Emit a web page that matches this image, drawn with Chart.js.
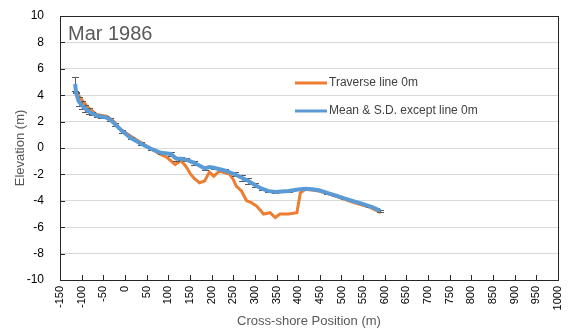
<!DOCTYPE html>
<html>
<head>
<meta charset="utf-8">
<script src="https://cdn.jsdelivr.net/npm/chart.js@4"></script>
<style>
  html, body { margin: 0; padding: 0; background: #fff; }
  #wrap { width: 569px; height: 329px; }
</style>
</head>
<body>
<div id="wrap"><canvas id="c" width="569" height="329"></canvas></div>
<script>
// Cross-shore profile, March 1986
const chartTitle = 'Mar 1986';
const xTitle = 'Cross-shore Position (m)';
const yTitle = 'Elevation (m)';
const seriesNames = ['Traverse line 0m', 'Mean & S.D. except line 0m'];

// Traverse line 0m (position m, elevation m)
const travX = [-112, -103, -88, -65, -41, -26, -10, 13, 44, 75, 98, 116, 129, 141, 152, 160, 172, 184, 195, 205, 218, 242, 250, 257, 269, 281, 292, 304, 312, 320, 335, 347, 358, 378, 397, 405, 417, 448, 486, 525, 564, 591];
const travY = [4.3, 3.79, 3.16, 2.53, 2.4, 2.02, 1.4, 0.9, 0.26, -0.36, -0.74, -1.25, -0.95, -1.4, -2.0, -2.3, -2.63, -2.5, -1.83, -2.13, -1.75, -2.0, -2.38, -2.88, -3.26, -4.0, -4.14, -4.4, -4.7, -5.0, -4.9, -5.27, -5.0, -5.0, -4.9, -3.4, -3.13, -3.26, -3.64, -4.09, -4.47, -4.9];

// Mean of the other lines, with standard deviation
const meanX = [-115, -113, -107, -100, -92, -84, -75, -65, -55, -45, -34, -22, -6, 13, 36, 60, 83, 106, 118, 130, 141, 160, 184, 195, 205, 230, 254, 270, 285, 300, 316, 330, 347, 362, 378, 400, 417, 432, 448, 467, 486, 505, 525, 545, 564, 580, 590];
const meanY = [4.85, 4.2, 3.55, 3.25, 3.0, 2.78, 2.6, 2.45, 2.38, 2.33, 2.15, 1.77, 1.27, 0.77, 0.34, -0.06, -0.36, -0.45, -0.8, -0.82, -0.88, -1.12, -1.55, -1.45, -1.5, -1.7, -2.0, -2.25, -2.5, -2.8, -3.08, -3.25, -3.34, -3.3, -3.26, -3.15, -3.08, -3.12, -3.2, -3.4, -3.59, -3.8, -4.0, -4.2, -4.4, -4.6, -4.77];
const meanSD = [0.5, 0.05, 0.35, 0.3, 0.28, 0.22, 0.1, 0.08, 0.08, 0.08, 0.1, 0.12, 0.12, 0.08, 0.08, 0.08, 0.08, 0.12, 0.15, 0.12, 0.12, 0.15, 0.08, 0.08, 0.08, 0.08, 0.15, 0.22, 0.2, 0.15, 0.08, 0.08, 0.05, 0.05, 0.05, 0.05, 0.05, 0.05, 0.05, 0.05, 0.05, 0.05, 0.05, 0.05, 0.05, 0.05, 0.08];

// Axis ranges and tick steps
const xMin = -150, xMax = 1000, xStep = 50;
const yMin = -10, yMax = 10, yStep = 2;

const FONT = '"Liberation Sans", Arial, sans-serif';
const ORANGE = '#ED7D31';
const BLUE = '#5B9BD5';

const pts = (xs, ys) => xs.map((x, i) => ({ x: x, y: ys[i] }));

// Standard deviation bars, drawn after the traverse line and under the mean line
const errorBars = {
  id: 'errorBars',
  afterDatasetDraw(chart, args) {
    if (args.index !== 0) return;
    const { ctx, scales: { x, y } } = chart;
    ctx.save();
    ctx.strokeStyle = '#595959';
    ctx.lineWidth = 1;
    meanX.forEach((mx, i) => {
      const px = Math.round(x.getPixelForValue(mx)) + 0.5;
      const top = y.getPixelForValue(meanY[i] + meanSD[i]);
      const bot = y.getPixelForValue(meanY[i] - meanSD[i]);
      ctx.beginPath();
      ctx.moveTo(px, top); ctx.lineTo(px, bot);
      ctx.moveTo(px - 3.5, Math.round(top) + 0.5); ctx.lineTo(px + 3.5, Math.round(top) + 0.5);
      ctx.moveTo(px - 3.5, Math.round(bot) + 0.5); ctx.lineTo(px + 3.5, Math.round(bot) + 0.5);
      ctx.stroke();
    });
    ctx.restore();
  }
};

// Frame, inner tick marks, in-plot title, legend and axis titles
const decorations = {
  id: 'decorations',
  afterDraw(chart) {
    const { ctx, chartArea: a, scales: { x, y } } = chart;
    ctx.save();
    ctx.strokeStyle = '#262626';
    ctx.lineWidth = 1;
    ctx.strokeRect(Math.round(a.left) + 0.5, Math.round(a.top) + 0.5, Math.round(a.right - a.left), Math.round(a.bottom - a.top));
    ctx.beginPath();
    for (let v = xMin; v <= xMax; v += xStep) {
      const px = Math.round(x.getPixelForValue(v)) + 0.5;
      ctx.moveTo(px, a.bottom); ctx.lineTo(px, a.bottom - 5);
    }
    for (let v = yMin; v <= yMax; v += yStep) {
      const py = Math.round(y.getPixelForValue(v)) + 0.5;
      ctx.moveTo(a.left, py); ctx.lineTo(a.left + 5, py);
    }
    ctx.stroke();

    ctx.fillStyle = '#595959';
    ctx.font = '20px ' + FONT;
    ctx.textBaseline = 'alphabetic';
    ctx.textAlign = 'left';
    ctx.fillText(chartTitle, a.left + 8, a.top + 24);

    const legend = [[seriesNames[0], ORANGE, 83], [seriesNames[1], BLUE, 111]];
    ctx.font = '12px ' + FONT;
    ctx.textBaseline = 'middle';
    legend.forEach(([label, color, ly]) => {
      ctx.strokeStyle = color;
      ctx.lineWidth = 3;
      ctx.beginPath();
      ctx.moveTo(295, ly); ctx.lineTo(327, ly);
      ctx.stroke();
      ctx.fillStyle = '#404040';
      ctx.fillText(label, 329, ly);
    });

    ctx.fillStyle = '#595959';
    ctx.font = '13px ' + FONT;
    ctx.textAlign = 'center';
    ctx.fillText(xTitle, (a.left + a.right) / 2, 321);
    ctx.translate(20, (a.top + a.bottom) / 2);
    ctx.rotate(-Math.PI / 2);
    ctx.fillText(yTitle, 0, 0);
    ctx.restore();
  }
};

new Chart(document.getElementById('c'), {
  type: 'scatter',
  data: {
    datasets: [
      {
        label: seriesNames[0],
        data: pts(travX, travY),
        showLine: true,
        borderColor: ORANGE,
        borderWidth: 3,
        pointRadius: 0,
        tension: 0,
        order: 2
      },
      {
        label: seriesNames[1],
        data: pts(meanX, meanY),
        showLine: true,
        borderColor: BLUE,
        borderWidth: 4,
        pointRadius: 0,
        tension: 0,
        order: 1
      }
    ]
  },
  options: {
    responsive: false,
    animation: false,
    layout: { padding: { top: 16, right: 11, left: 0, bottom: 0 } },
    plugins: { legend: { display: false }, tooltip: { enabled: false } },
    scales: {
      x: {
        type: 'linear',
        min: xMin, max: xMax,
        afterFit(s) { s.height = 49; s.paddingLeft = 0; s.paddingRight = 0; },
        afterBuildTicks(s) {
          const t = [];
          for (let v = xMin; v <= xMax; v += xStep) t.push({ value: v });
          s.ticks = t;
        },
        ticks: {
          autoSkip: false, minRotation: 90, maxRotation: 90,
          color: '#000', padding: 6,
          font: { family: FONT, size: 11 },
          callback: v => String(v)
        },
        grid: { display: false, drawTicks: false },
        border: { display: false }
      },
      y: {
        min: yMin, max: yMax,
        afterFit(s) { s.width = 60; s.paddingTop = 0; s.paddingBottom = 0; },
        afterBuildTicks(s) {
          const t = [];
          for (let v = yMin; v <= yMax; v += yStep) t.push({ value: v });
          s.ticks = t;
        },
        ticks: {
          color: '#000', padding: 16,
          font: { family: FONT, size: 12 },
          callback: v => String(v)
        },
        grid: { color: '#d9d9d9', lineWidth: 1, drawTicks: false },
        border: { display: false }
      }
    }
  },
  plugins: [errorBars, decorations]
});
</script>
</body>
</html>
